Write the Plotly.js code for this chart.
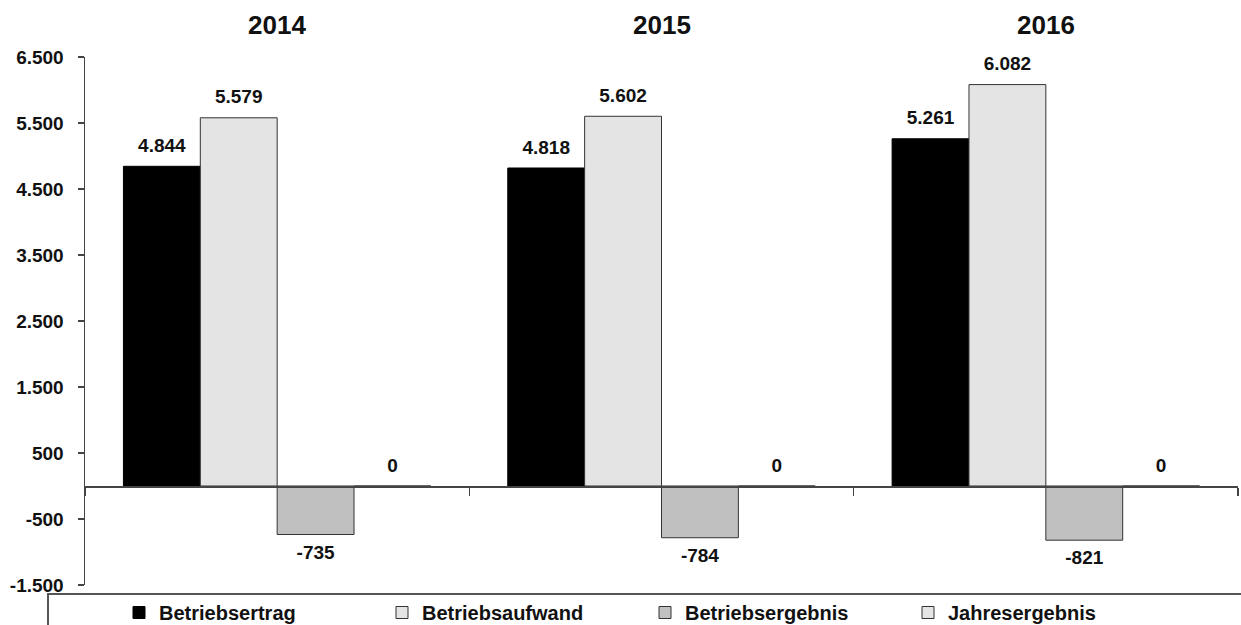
<!DOCTYPE html>
<html>
<head>
<meta charset="utf-8">
<script src="https://cdn.plot.ly/plotly-3.0.1.min.js"></script>
<style>html,body{margin:0;padding:0;background:#fff;}#chart{width:1241px;height:625px;}</style>
</head>
<body>
<div id="chart"></div>
<script>
const years = ['2014', '2015', '2016'];
const betriebsertrag = [4844, 4818, 5261];
const betriebsaufwand = [5579, 5602, 6082];
const betriebsergebnis = [-735, -784, -821];
const jahresergebnis = [0, 0, 0];
const seriesNames = ['Betriebsertrag', 'Betriebsaufwand', 'Betriebsergebnis', 'Jahresergebnis'];
const yTickVals = [-1500, -500, 500, 1500, 2500, 3500, 4500, 5500, 6500];
const yTickText = ['-1.500', '-500', '500', '1.500', '2.500', '3.500', '4.500', '5.500', '6.500'];

function fmt(n) {
  const s = Math.abs(n).toString().replace(/\B(?=(\d{3})+(?!\d))/g, '.');
  return (n < 0 ? '-' : '') + s;
}

const FONT = 'Arial, "Liberation Sans", sans-serif';
const styles = [
  {color: '#000000', line: '#000000'},
  {color: '#e4e4e4', line: '#333333'},
  {color: '#c0c0c0', line: '#333333'},
  {color: '#e4e4e4', line: '#333333'}
];
const groups = ['a', 'b', 'c', 'd'];
const values = [betriebsertrag, betriebsaufwand, betriebsergebnis, jahresergebnis];

const barTraces = values.map((vals, i) => ({
  type: 'bar',
  name: seriesNames[i],
  x: years,
  y: vals,
  offsetgroup: groups[i],
  marker: {color: styles[i].color, line: {color: styles[i].line, width: 1}},
  hoverinfo: 'skip'
}));

const labelTraces = values.map((vals, i) => ({
  type: 'scatter',
  mode: 'markers+text',
  showlegend: false,
  x: years,
  y: vals,
  offsetgroup: groups[i],
  text: vals.map(fmt),
  textposition: vals.map(v => v < 0 ? 'bottom center' : 'top center'),
  marker: {size: 14, color: 'rgba(0,0,0,0)', line: {width: 0}},
  cliponaxis: false,
  textfont: {family: FONT, size: 19, color: '#111', weight: 'bold'},
  hoverinfo: 'skip'
}));

const layout = {
  width: 1241,
  height: 625,
  margin: {l: 85, r: 3, t: 57, b: 40, autoexpand: false},
  paper_bgcolor: '#fff',
  plot_bgcolor: '#fff',
  barmode: 'group',
  bargap: 0.2,
  bargroupgap: 0,
  scattermode: 'group',
  scattergap: 0.2,
  showlegend: true,
  font: {family: FONT, color: '#111'},
  xaxis: {
    type: 'category',
    range: [-0.5, 2.5],
    anchor: 'free',
    position: 1500 / 8000,
    showline: true,
    linecolor: '#444',
    linewidth: 1.5,
    ticks: 'outside',
    tickson: 'boundaries',
    ticklen: 8,
    tickcolor: '#444',
    tickwidth: 1.5,
    showticklabels: false,
    showgrid: false,
    zeroline: false
  },
  yaxis: {
    range: [-1500, 6500],
    showline: true,
    linecolor: '#444',
    linewidth: 1.5,
    ticks: 'outside',
    ticklen: 6,
    tickcolor: '#444',
    tickwidth: 1.5,
    tickvals: yTickVals,
    ticktext: yTickText,
    ticklabelstandoff: 10,
    tickfont: {family: FONT, size: 19, color: '#111', weight: 'bold'},
    showgrid: false,
    zeroline: false
  },
  legend: {
    orientation: 'h',
    x: 34 / 1153,
    xanchor: 'left',
    y: -8 / 528,
    yanchor: 'top',
    borderwidth: 0,
    bgcolor: 'rgba(0,0,0,0)',
    font: {family: FONT, size: 20, color: '#111', weight: 'bold'},
    entrywidth: 218,
    traceorder: 'normal'
  },
  shapes: [{
    type: 'rect', xref: 'paper', yref: 'paper',
    x0: -37 / 1153, x1: 1.05, y0: -9 / 528, y1: -0.3,
    line: {color: '#555', width: 2}, fillcolor: 'rgba(0,0,0,0)'
  }],
  annotations: years.map((y, i) => ({
    x: i, xref: 'x', y: 1, yref: 'paper',
    yanchor: 'middle', yshift: 32,
    text: y, showarrow: false,
    font: {family: FONT, size: 26, color: '#111', weight: 'bold'}
  }))
};

Plotly.newPlot('chart', barTraces.concat(labelTraces), layout, {displayModeBar: false, staticPlot: true});
</script>
</body>
</html>
